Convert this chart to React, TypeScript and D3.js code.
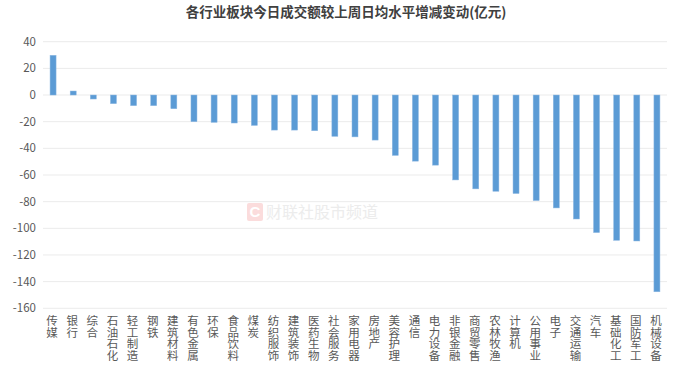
import React from 'react';
import * as d3 from 'd3';

const categories = [
  '传媒', '银行', '综合', '石油石化', '轻工制造', '钢铁', '建筑材料', '有色金属',
  '环保', '食品饮料', '煤炭', '纺织服饰', '建筑装饰', '医药生物', '社会服务', '家用电器',
  '房地产', '美容护理', '通信', '电力设备', '非银金融', '商贸零售', '农林牧渔', '计算机',
  '公用事业', '电子', '交通运输', '汽车', '基础化工', '国防军工', '机械设备',
];

const changes = [
  29.8, 3, -3, -6.5, -8, -8, -10.3, -20,
  -20.5, -21, -22.8, -26.3, -26.3, -26.8, -31, -31.4,
  -33.8, -45.3, -49.6, -52.6, -63.7, -70.4, -72.2, -73.9,
  -79.2, -84.7, -93, -103.2, -109, -109.5, -147.6,
];

const yTicks = [40, 20, 0, -20, -40, -60, -80, -100, -120, -140, -160];

const title = '各行业板块今日成交额较上周日均水平增减变动(亿元)';

const W = 692;
const H = 369;
const font = '"Noto Sans CJK SC", "Noto Sans", sans-serif';

const App = () => {
  const margin = { top: 41.7, left: 43, right: 25 };

  const x = d3.scaleBand<string>()
    .domain(categories)
    .range([margin.left, W - margin.right])
    .paddingInner(0.7)
    .paddingOuter(0.35);

  const y = d3.scaleLinear()
    .domain([40, -160])
    .range([margin.top, margin.top + 266.6]);

  const barW = 6;

  return (
    <svg width={W} height={H} style={{ position: 'absolute', left: 0, top: 0, background: '#fff' }}>
      <text x={346} y={17} textAnchor="middle" fontFamily={font} fontSize={13.5} fontWeight="bold" fill="#404040">
        {title}
      </text>

      {/* watermark */}
      <g>
        <rect x={247} y={203} width={16} height={18} rx={2} fill="#fbdcdc" />
        <text x={255} y={217} textAnchor="middle" fontFamily="Arial, sans-serif" fontWeight="bold" fontSize={15} fill="#fff">C</text>
        <text x={266} y={218} fontFamily={font} fontSize={16} fill="#ececec">财联社股市频道</text>
      </g>

      {yTicks.map(t => (
        <g key={t}>
          <line x1={margin.left} x2={W - margin.right} y1={y(t)} y2={y(t)} stroke="#ebebeb" strokeWidth={1} />
          <text x={36} y={y(t) + 4} textAnchor="end" fontFamily={font} fontSize={11.5} fill="#595959">{t}</text>
        </g>
      ))}

      {categories.map((c, i) => {
        const cx = (x(c) as number) + x.bandwidth() / 2;
        const v = changes[i];
        return (
          <rect
            key={c}
            x={cx - barW / 2}
            y={Math.min(y(v), y(0))}
            width={barW}
            height={Math.abs(y(v) - y(0))}
            fill="#5b9bd5"
            stroke="#8db8e2"
            strokeWidth={0.5}
          />
        );
      })}

      {categories.map(c => {
        const cx = (x(c) as number) + x.bandwidth() / 2;
        return (
          <text key={c} fontFamily={font} fontSize={11.5} fill="#595959" textAnchor="middle">
            {c.split('').map((ch, j) => (
              <tspan key={j} x={cx - 1} y={325 + j * 11.7}>{ch}</tspan>
            ))}
          </text>
        );
      })}
    </svg>
  );
};

export default App;
